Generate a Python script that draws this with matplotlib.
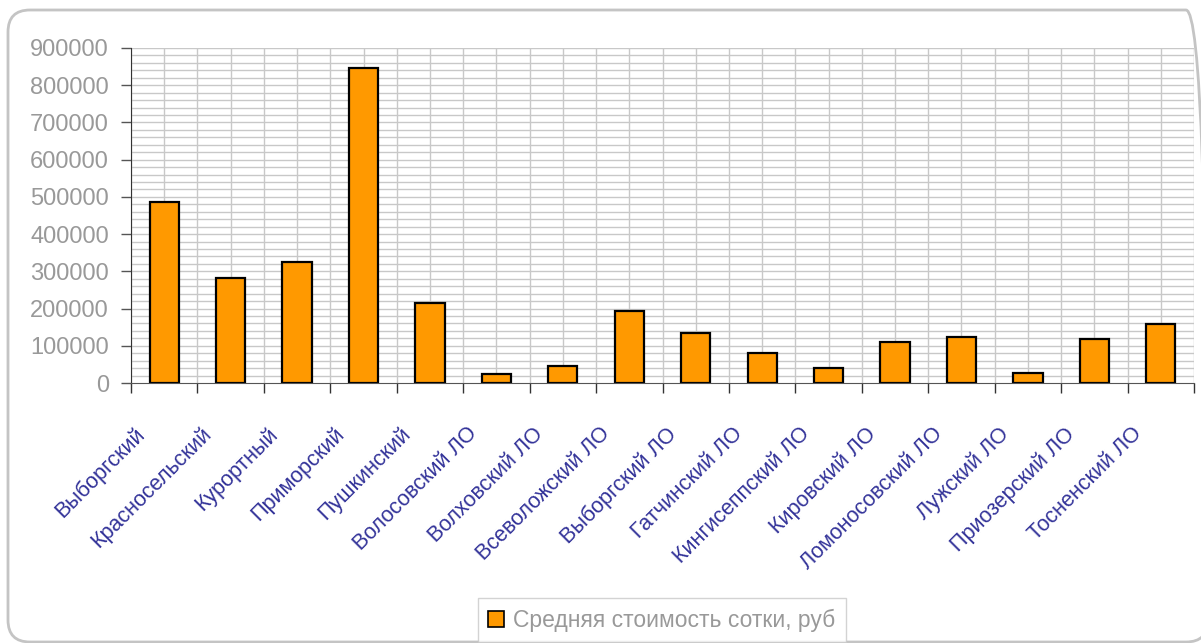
import matplotlib
matplotlib.use('Agg')
import matplotlib.pyplot as plt
import matplotlib.transforms as mtransforms
from matplotlib.patches import FancyBboxPatch, Patch
import numpy as np

plt.rcParams['font.family'] = ['Liberation Sans', 'DejaVu Sans']

districts = ['Выборгский', 'Красносельский', 'Курортный', 'Приморский', 'Пушкинский',
             'Волосовский ЛО', 'Волховский ЛО', 'Всеволожский ЛО', 'Выборгский ЛО',
             'Гатчинский ЛО', 'Кингисеппский ЛО', 'Кировский ЛО', 'Ломоносовский ЛО',
             'Лужский ЛО', 'Приозерский ЛО', 'Тосненский ЛО']
avg_price = [487000, 281000, 326000, 846000, 216000, 25000, 45000, 193000, 133000,
             80000, 40000, 109000, 124000, 26000, 118000, 159000]
series_name = 'Средняя стоимость сотки, руб'

orange = '#FF9900'
grid_col = '#C8C8C8'
label_blue = '#333399'
text_gray = '#999999'

fig = plt.figure(figsize=(12.01, 6.43), dpi=100)

# rounded frame around the whole chart (pixel coordinates)
frame = FancyBboxPatch((8, 1), 1200, 632, boxstyle='round,pad=0,rounding_size=22',
                       transform=mtransforms.IdentityTransform(), facecolor='none',
                       edgecolor='#C4C4C4', linewidth=2, zorder=5)
fig.patches.append(frame)

ax = fig.add_axes([131 / 1201, 1 - 383 / 643, (1194 - 131) / 1201, (383 - 48) / 643])
ax.set_facecolor('none')

x = np.arange(len(districts))
ax.bar(x, avg_price, width=0.44, color=orange, edgecolor='black', linewidth=1.6, zorder=3)

ax.set_xlim(-0.5, len(districts) - 0.5)
ax.set_ylim(0, 900000)

# grid: every 20000 horizontally, category centres and borders vertically
for yv in np.arange(20000, 900001, 20000):
    ax.axhline(yv, color=grid_col, linewidth=1, zorder=1)
for xv in np.arange(-0.5, len(districts), 0.5):
    ax.axvline(xv, color=grid_col, linewidth=1, zorder=1)

ax.set_yticks(np.arange(0, 900001, 100000))
ax.set_yticklabels([str(v) for v in range(0, 900001, 100000)])
ax.tick_params(axis='y', colors='#555555', labelcolor=text_gray, labelsize=17,
               length=7, width=1, direction='out', pad=9)

ax.set_xticks(np.arange(-0.5, len(districts), 1.0))
ax.set_xticklabels([])
ax.tick_params(axis='x', which='major', colors='#333333', length=7, width=1, direction='out')
ax.set_xticks(x, minor=True)
ax.set_xticklabels(districts, minor=True, rotation=45, ha='right', color=label_blue, fontsize=15.5)
ax.tick_params(axis='x', which='minor', length=0, pad=29)
shift = mtransforms.ScaledTranslation(-0.15, 0, fig.dpi_scale_trans)
for lbl in ax.get_xticklabels(minor=True):
    lbl.set_transform(lbl.get_transform() + shift)

for side in ['top', 'right']:
    ax.spines[side].set_visible(False)
ax.spines['left'].set_color('#333333')
ax.spines['bottom'].set_color('#555555')
ax.spines['left'].set_zorder(4)
ax.spines['bottom'].set_zorder(4)

leg = fig.legend(handles=[Patch(facecolor=orange, edgecolor='black', linewidth=1.2, label=series_name)],
                 loc='center', bbox_to_anchor=(662 / 1201, 1 - 620 / 643), frameon=True,
                 fancybox=False, fontsize=16.5, handlelength=0.7, handleheight=0.7,
                 handletextpad=0.4, borderpad=0.45)
leg.get_frame().set_edgecolor('#C8C8C8')
leg.get_frame().set_linewidth(1)
for t in leg.get_texts():
    t.set_color(text_gray)

fig.savefig('out.png', dpi=100)
